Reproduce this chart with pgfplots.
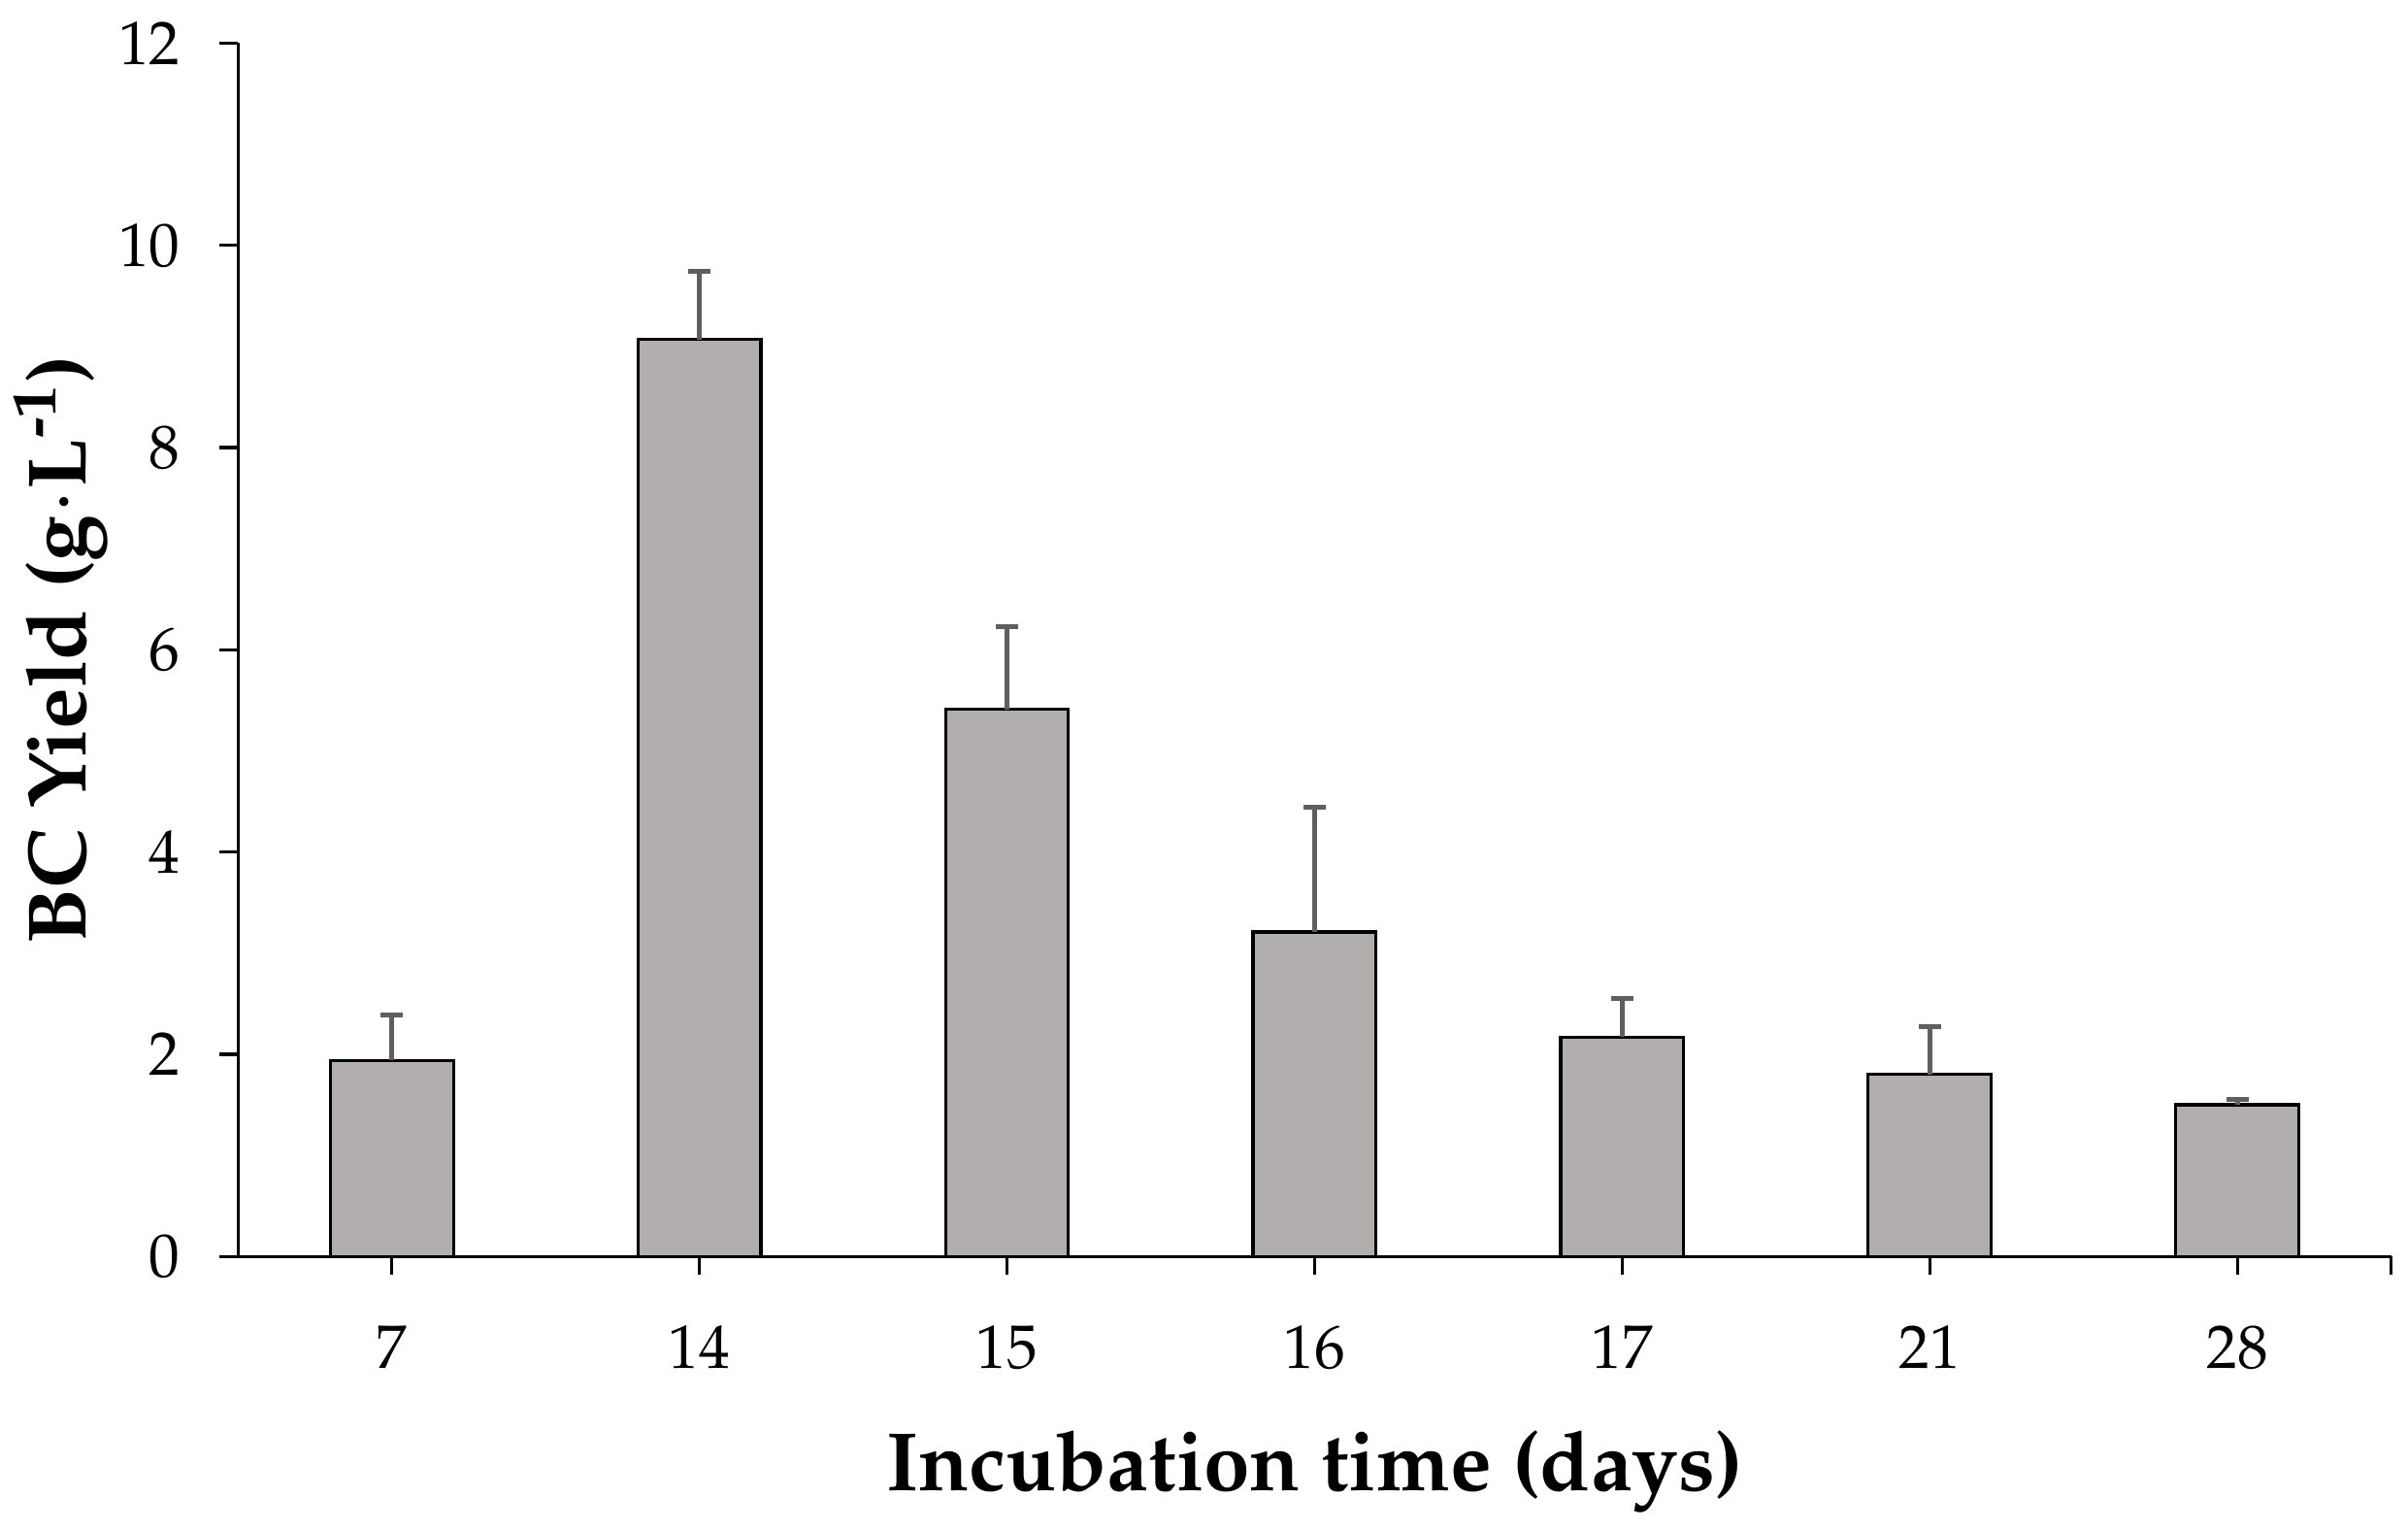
\documentclass[border=0pt]{standalone}
\usepackage[T1]{fontenc}
\usepackage{mathpazo}
\usepackage{pgfplots}
\usepackage{pgfplotstable}
\pgfplotsset{compat=1.18}
\usetikzlibrary{calc}
\definecolor{barfill}{RGB}{177,174,173}
\definecolor{errc}{RGB}{95,95,95}
\pgfplotstableread{
x y err
0 1.94 0.45
1 9.07 0.67
2 5.41 0.82
3 3.21 1.23
4 2.17 0.38
5 1.80 0.47
6 1.50 0.05
}\datatable
\begin{document}
\begin{tikzpicture}
\begin{axis}[
  name=ax,
  scale only axis,
  width=350.5pt, height=197.5pt,
  xmin=-0.5, xmax=6.5, ymin=0, ymax=12,
  axis x line*=bottom, axis y line*=left,
  xtick={0,...,6}, xticklabels={7,14,15,16,17,21,28},
  extra x ticks={6.5}, extra x tick labels={},
  ytick={0,2,...,12},
  tick align=outside,
  major tick length=3pt,
  tick style={black, line width=0.5pt},
  axis line style={black, line width=0.5pt},
  tick label style={font=\fontsize{10}{12}\selectfont},
  yticklabel style={anchor=east, inner sep=0pt, xshift=-6.25pt},
  xticklabel style={anchor=north, inner sep=0pt, yshift=-8pt},
  ybar, bar width=0.4,
  xlabel={\bfseries Incubation time (days)},
  ylabel={\bfseries BC Yield (g$\cdot$L\textsuperscript{-1})},
  xlabel style={font=\fontsize{13.5}{16}\selectfont, at={(axis description cs:0.5,0)}, anchor=center, yshift=-35pt},
  ylabel style={font=\fontsize{13.5}{16}\selectfont, at={(axis description cs:0,0.5)}, anchor=center, yshift=29pt},
]
\addplot[fill=barfill, draw=black, line width=0.5pt,
  error bars/.cd, y dir=plus, y explicit,
  error bar style={errc, line width=0.8pt},
  error mark options={rotate=90, mark size=1.8pt, errc, line width=0.8pt}]
  table[x=x, y=y, y error=err] {\datatable};
\end{axis}
\pgfresetboundingbox
\path ($(ax.south west)+(-38.75pt,-44.5pt)$) rectangle ($(ax.north east)+(2.75pt,7pt)$);
\end{tikzpicture}
\end{document}
